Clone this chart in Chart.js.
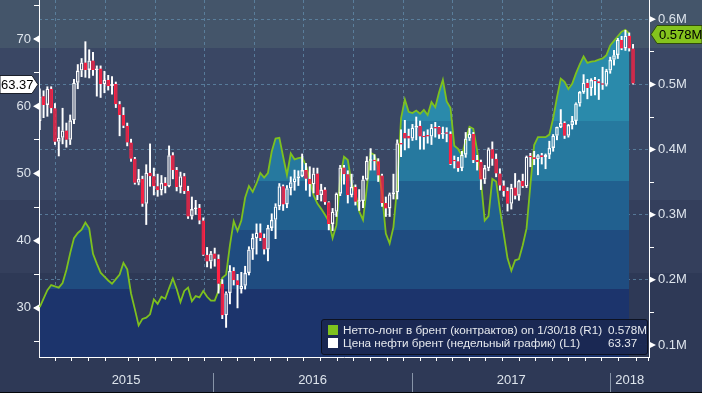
<!DOCTYPE html>
<html>
<head>
<meta charset="utf-8">
<script src="https://cdn.jsdelivr.net/npm/chart.js@4.4.1/dist/chart.umd.min.js"></script>
<style>
html, body { margin: 0; padding: 0; background: #2e3956; }
#wrap { position: relative; width: 702px; height: 393px; overflow: hidden; }
#legend { position: absolute; left: 321px; top: 319px; width: 325px; height: 34px;
  background: rgba(26, 40, 82, 0.95); border: 1px solid #0d1222; border-radius: 3px;
  font: 11.7px "Liberation Sans", sans-serif; color: #e6e9ee; }
.row { position: absolute; left: 6px; height: 12px; line-height: 12px; white-space: nowrap; }
.sw { display: inline-block; width: 10px; height: 10px; vertical-align: -1px; margin-right: 5px; }
.val { position: absolute; left: 280px; }
</style>
</head>
<body>
<div id="wrap">
  <canvas id="chart" width="702" height="393"></canvas>
  <div id="legend">
    <div class="row" style="top:4px"><span class="sw" style="background:#7ec11e"></span>Нетто-лонг в брент (контрактов) on 1/30/18 (R1)<span class="val" id="v1"></span></div>
    <div class="row" style="top:17px"><span class="sw" style="background:#ffffff"></span>Цена нефти брент (недельный график) (L1)<span class="val" id="v2"></span></div>
  </div>
</div>
<script>
// weekly bars, first bar = week of 13 Feb 2015, last = week of 9 Feb 2018
const firstWeek = new Date(2015, 1, 13);

// Brent weekly candles (USD/bbl)
const open = [
  57.8,61.5,60.2,62.6,59.7,54.7,55.3,56.4,55.0,57.9,
  63.5,65.3,66.5,65.4,66.8,65.4,65.6,63.3,63.9,63.0,
  63.3,60.3,58.7,57.1,54.6,52.2,48.6,49.2,45.5,50.1,
  49.6,48.1,47.5,48.6,48.1,52.7,50.5,48.0,49.6,47.4,
  43.6,44.7,44.9,43.0,37.9,36.9,38.1,37.3,33.6,28.9,
  32.2,35.5,34.1,32.8,33.3,35.2,38.7,40.4,41.2,40.4,
  38.7,41.9,43.1,45.1,48.1,45.4,47.8,48.7,49.3,49.6,
  50.5,49.2,48.4,50.0,46.8,47.6,45.7,42.5,44.3,47.0,
  50.9,49.9,46.8,48.0,45.8,45.9,49.1,51.9,52.0,51.8,
  49.7,45.6,44.8,46.9,47.2,54.5,56.0,55.6,55.2,56.8,
  57.1,55.5,55.6,55.5,56.9,56.9,55.8,56.1,55.9,52.0,
  51.8,50.8,52.8,55.2,55.9,52.0,51.7,49.1,50.8,53.6,
  52.2,50.0,48.2,47.4,45.5,47.9,46.7,48.9,48.1,52.5,
  52.4,52.1,52.7,52.4,52.8,53.8,55.6,56.9,57.5,55.6,
  57.2,57.8,60.4,62.1,63.5,62.7,63.9,63.7,63.4,63.2,
  65.3,66.9,67.6,69.9,68.6,70.5,68.6
];
const high = [
  62.6,62.3,62.9,62.9,60.4,56.9,59.7,57.5,58.7,64.0,
  66.2,67.1,69.6,68.4,68.0,66.0,66.0,65.2,64.6,64.4,
  63.6,60.7,59.8,57.5,55.1,52.4,50.6,49.6,51.3,54.4,
  50.8,49.9,49.7,49.4,54.1,53.1,50.9,50.2,50.0,48.1,
  46.5,46.0,45.4,43.4,39.0,38.4,38.9,37.9,34.2,32.4,
  36.3,36.0,35.0,35.3,36.2,39.1,41.0,42.5,42.5,41.0,
  42.3,44.0,45.5,48.5,48.3,48.2,49.5,50.5,50.4,52.9,
  51.5,51.0,50.8,50.8,48.4,47.9,45.8,44.8,47.1,51.2,
  51.2,50.4,49.9,48.3,47.6,49.6,52.5,53.7,52.8,52.2,
  49.9,46.5,47.1,49.9,55.0,56.5,57.9,56.6,57.3,58.4,
  57.8,56.2,56.5,57.3,57.6,57.0,56.9,56.8,56.2,52.6,
  52.4,53.3,56.1,56.7,56.1,52.7,52.0,51.2,53.8,54.7,
  52.9,50.7,48.9,47.9,48.4,50.0,49.0,49.9,52.6,53.0,
  53.3,52.8,53.0,52.9,54.8,55.8,56.9,59.5,57.7,57.3,
  58.5,60.5,62.2,64.7,64.0,64.1,64.3,64.0,65.8,65.5,
  67.3,68.3,70.1,70.4,71.3,70.9,69.2
];
const low = [
  56.5,58.3,58.5,59.0,54.3,52.6,54.4,53.9,54.3,57.4,
  62.6,64.4,64.3,64.2,64.6,61.5,61.3,62.0,62.4,61.8,
  59.8,55.6,56.8,54.1,51.8,48.4,48.3,45.1,42.4,48.1,
  46.8,46.6,46.8,47.1,48.0,49.2,47.4,47.1,47.0,43.3,
  43.2,43.9,42.5,37.8,36.1,35.9,36.2,32.2,28.4,27.1,
  30.6,33.4,30.0,32.2,32.8,34.9,37.2,38.0,40.0,38.0,
  37.0,41.5,40.3,44.6,44.5,44.9,46.8,47.5,48.2,49.5,
  47.5,46.6,47.1,46.1,45.9,45.4,41.6,41.5,43.6,46.7,
  48.4,45.6,46.5,45.3,44.5,44.9,49.0,50.5,50.5,48.8,
  45.1,43.6,43.6,46.2,46.2,52.5,53.5,53.8,54.9,55.0,
  53.6,53.6,54.5,54.3,55.4,55.2,55.2,54.7,51.3,50.8,
  50.3,50.4,52.4,54.9,51.6,50.5,47.6,48.5,50.4,51.2,
  49.5,47.5,46.6,44.4,44.7,46.2,46.0,47.9,47.9,51.0,
  51.3,49.8,51.4,50.7,52.2,53.3,55.0,56.8,55.2,55.4,
  56.6,57.3,60.0,61.9,61.1,61.6,61.7,61.0,62.5,63.0,
  64.9,66.1,67.1,68.4,68.3,68.2,63.3
];
const close = [
  61.5,60.2,62.6,59.7,54.7,55.3,56.4,55.0,57.9,63.5,
  65.3,66.5,65.4,66.8,65.4,65.6,63.3,63.9,63.0,63.3,
  60.3,58.7,57.1,54.6,52.2,48.6,49.2,45.5,50.1,49.6,
  48.1,47.5,48.6,48.1,52.7,50.5,48.0,49.6,47.4,43.6,
  44.7,44.9,43.0,37.9,36.9,38.1,37.3,33.6,28.9,32.2,
  35.5,34.1,33.4,33.3,35.2,38.7,40.4,41.2,40.4,38.7,
  41.9,43.1,45.1,48.1,45.4,47.8,48.7,49.3,49.6,50.5,
  49.2,48.4,50.0,46.8,47.6,45.7,42.5,44.3,47.0,50.9,
  49.9,46.8,48.0,45.8,45.9,49.1,51.9,52.0,51.8,49.7,
  45.6,44.8,46.9,47.2,54.5,54.3,55.2,55.2,56.8,57.1,
  55.5,55.4,55.5,56.8,56.7,55.8,56.0,55.9,51.4,51.8,
  50.8,52.8,55.2,55.9,52.0,51.7,49.1,50.8,53.6,52.2,
  50.0,48.2,47.4,45.5,47.9,46.7,48.9,48.1,52.5,52.4,
  52.1,52.7,52.4,52.8,53.8,55.6,56.9,57.5,55.6,57.2,
  57.8,60.4,62.1,63.5,62.7,63.9,63.7,63.4,63.2,65.3,
  66.9,67.6,69.9,68.6,70.5,68.6,63.37
];

// CFTC net long in Brent, millions of contracts (weekly)
const netLong = [
  0.158,0.171,0.184,0.192,0.190,0.188,0.195,0.215,0.241,0.264,
  0.272,0.277,0.288,0.279,0.240,0.225,0.211,0.205,0.199,0.194,
  0.201,0.208,0.226,0.216,0.179,0.155,0.130,0.140,0.142,0.147,
  0.170,0.163,0.174,0.171,0.187,0.202,0.186,0.166,0.183,0.188,
  0.167,0.175,0.173,0.183,0.174,0.168,0.168,0.183,0.203,0.208,
  0.253,0.290,0.275,0.291,0.326,0.344,0.335,0.348,0.364,0.357,
  0.364,0.397,0.417,0.418,0.389,0.361,0.394,0.385,0.387,0.388,
  0.376,0.354,0.330,0.317,0.309,0.300,0.290,0.264,0.284,0.356,
  0.389,0.384,0.348,0.333,0.305,0.292,0.341,0.395,0.392,0.373,
  0.333,0.271,0.256,0.281,0.344,0.448,0.477,0.458,0.456,0.460,
  0.455,0.461,0.453,0.473,0.465,0.488,0.507,0.474,0.464,0.406,
  0.401,0.391,0.415,0.435,0.432,0.399,0.353,0.291,0.298,0.355,
  0.351,0.308,0.271,0.233,0.214,0.230,0.232,0.253,0.279,0.345,
  0.407,0.419,0.419,0.419,0.423,0.448,0.480,0.509,0.504,0.493,
  0.501,0.517,0.531,0.543,0.533,0.535,0.536,0.538,0.540,0.545,
  0.560,0.567,0.574,0.581,0.584,0.578
];

const leftTicks = [25, 30, 35, 40, 45, 50, 55, 60, 65, 70, 75];
const leftLabeled = [30, 40, 50, 60, 70];
const rightTicks = [0.1, 0.15, 0.2, 0.25, 0.3, 0.35, 0.4, 0.45, 0.5, 0.55, 0.6];
const rightLabeled = [0.1, 0.2, 0.3, 0.4, 0.5, 0.6];
const yearLabels = ['2015', '2016', '2017', '2018'];

const xMin = -0.2, xMax = 160.2;
const DAY = 864e5;
const barShift = -0.4;
const weekPos = d => (d - firstWeek) / (7 * DAY) + barShift;

const UP = '#ffffff', DOWN = '#ff2244', GREEN = '#7ec11e';
const gridCol = 'rgba(98,140,172,0.75)';
const labelCol = '#dde4ec';
const bands = [
  {from: 0, to: 48, color: '#44556a'},
  {from: 48, to: 200, color: '#3a4764'},
  {from: 200, to: 273, color: '#343f5c'},
  {from: 273, to: 393, color: '#2e3956'}
];
const fillBands = [
  {to: 121, color: '#2a8aab'},
  {to: 181, color: '#26799f'},
  {to: 230, color: '#21608f'},
  {to: 289, color: '#1f4c80'},
  {to: 357, color: '#1c346c'}
];

// x ticks: month marks, quarter grid lines, year captions
const xTicks = [];
for (let y = 2015; y <= 2018; y++) {
  for (let m = 0; m < 12; m++) {
    const p = weekPos(new Date(y, m, 1));
    if (p >= xMin && p <= xMax) xTicks.push({value: p, kind: m % 3 === 0 ? 'q' : 'm'});
  }
}
yearLabels.forEach(yl => {
  const y = +yl;
  const a = Math.max(xMin, weekPos(new Date(y, 0, 1)));
  const b = Math.min(xMax, weekPos(new Date(y + 1, 0, 1)));
  xTicks.push({value: (a + b) / 2, lab: yl});
});
xTicks.sort((a, b) => a.value - b.value);

const isUp = i => close[i] >= open[i];
const bodies = open.map((o, i) => ({x: i, y: [o, close[i]]}));
const upperWick = open.map((o, i) => ({x: i, y: [Math.max(o, close[i]), high[i]]}));
const lowerWick = open.map((o, i) => ({x: i, y: [low[i], Math.min(o, close[i])]}));
const wickCols = open.map((o, i) => UP);
const bodyFill = open.map((o, i) => isUp(i) ? 'rgba(0,0,0,0)' : DOWN);
const bodyBorder = open.map((o, i) => isUp(i) ? UP : DOWN);

const lastClose = close[close.length - 1];
const lastNet = netLong[netLong.length - 1];
document.getElementById('v1').textContent = lastNet.toFixed(3) + 'M';
document.getElementById('v2').textContent = lastClose.toFixed(2);

function fillGradient(ctx) {
  const area = ctx.chart.chartArea;
  if (!area) return fillBands[0].color;
  const g = ctx.chart.ctx.createLinearGradient(0, area.top, 0, area.bottom);
  const h = area.bottom - area.top;
  let from = 0;
  fillBands.forEach(b => {
    g.addColorStop(Math.min(1, from / h), b.color);
    g.addColorStop(Math.min(1, b.to / h), b.color);
    from = b.to;
  });
  return g;
}

const decor = {
  id: 'decor',
  beforeDraw(chart) {
    const c = chart.ctx;
    bands.forEach(b => { c.fillStyle = b.color; c.fillRect(0, b.from, chart.width, b.to - b.from); });
  },
  afterDraw(chart) {
    const c = chart.ctx;
    const {x, y, y2} = chart.scales;
    const area = chart.chartArea;
    c.save();
    c.fillStyle = '#ffffff';
    leftLabeled.forEach(v => {
      const py = y.getPixelForValue(v);
      c.beginPath(); c.moveTo(area.left, py - 3.5); c.lineTo(area.left, py + 3.5); c.lineTo(area.left - 6, py); c.fill();
    });
    rightLabeled.forEach(v => {
      const py = y2.getPixelForValue(v);
      c.beginPath(); c.moveTo(area.right, py - 3.5); c.lineTo(area.right, py + 3.5); c.lineTo(area.right + 7, py); c.fill();
    });
    // year separators
    c.strokeStyle = '#8794a8'; c.lineWidth = 1;
    yearLabels.slice(1).forEach(yl => {
      const px = Math.round(x.getPixelForValue(weekPos(new Date(+yl, 0, 1)))) + 0.5;
      c.beginPath(); c.moveTo(px, 373); c.lineTo(px, chart.height); c.stroke();
    });
    c.fillStyle = '#05070c';
    c.fillRect(0, chart.height - 1, chart.width, 1);
    // last value badges
    c.font = '13px "Liberation Sans", sans-serif';
    c.textBaseline = 'middle';
    let py = Math.round(y.getPixelForValue(lastClose)) + 0.5;
    c.beginPath();
    c.moveTo(0, py - 9); c.lineTo(32, py - 9); c.lineTo(38, py); c.lineTo(32, py + 9); c.lineTo(0, py + 9); c.closePath();
    c.fillStyle = '#ffffff'; c.fill();
    c.strokeStyle = '#1a1f2a'; c.stroke();
    c.fillStyle = '#000000'; c.textAlign = 'left';
    c.fillText(lastClose.toFixed(2), 1, py + 1);
    py = Math.round(y2.getPixelForValue(lastNet)) + 0.5;
    c.beginPath();
    c.moveTo(651, py); c.lineTo(657, py - 9); c.lineTo(702, py - 9); c.lineTo(702, py + 9); c.lineTo(657, py + 9); c.closePath();
    c.fillStyle = '#84c31d'; c.fill();
    c.strokeStyle = '#2f4a0c'; c.stroke();
    c.fillStyle = '#000000';
    c.fillText(lastNet.toFixed(3) + 'M', 659, py + 1);
    c.restore();
  }
};

Chart.defaults.font.family = '"Liberation Sans", sans-serif';
Chart.defaults.font.size = 13;

new Chart(document.getElementById('chart'), {
  type: 'bar',
  data: {
    datasets: [
      {
        type: 'line',
        data: netLong.map((v, i) => ({x: i, y: v})),
        yAxisID: 'y2',
        borderColor: GREEN,
        borderWidth: 1.8,
        pointRadius: 0,
        tension: 0,
        fill: 'start',
        backgroundColor: fillGradient,
        order: 3
      },
      {
        data: upperWick, yAxisID: 'y', backgroundColor: wickCols,
        barThickness: 1.3, grouped: false, order: 2
      },
      {
        data: lowerWick, yAxisID: 'y', backgroundColor: wickCols,
        barThickness: 1.3, grouped: false, order: 2
      },
      {
        data: bodies, yAxisID: 'y',
        backgroundColor: bodyFill, borderColor: bodyBorder,
        borderWidth: 1.3, borderSkipped: false, inflateAmount: 0,
        barThickness: 3.6, minBarLength: 1.5, grouped: false, order: 1
      }
    ]
  },
  options: {
    responsive: false,
    animation: false,
    devicePixelRatio: 1,
    layout: {padding: 0},
    plugins: {legend: {display: false}, tooltip: {enabled: false}},
    scales: {
      x: {
        type: 'linear', min: xMin, max: xMax, offset: false,
        afterBuildTicks: s => { s.ticks = xTicks.map(t => Object.assign({}, t)); },
        afterFit: s => { s.height = 36; s.paddingLeft = 0; s.paddingRight = 0; },
        ticks: {
          autoSkip: false, maxRotation: 0, padding: 12, color: labelCol,
          callback: (v, i, t) => t[i].lab || ''
        },
        grid: {
          color: c => (c.tick && c.tick.kind === 'q') ? gridCol : 'rgba(0,0,0,0)',
          tickColor: c => (c.tick && c.tick.lab) ? 'rgba(0,0,0,0)' : '#ffffff',
          tickLength: 4, tickBorderDash: []
        },
        border: {color: '#ffffff', width: 1, dash: [3, 3]}
      },
      y: {
        position: 'left', min: 22.7, max: 75.8,
        afterBuildTicks: s => { s.ticks = leftTicks.map(v => ({value: v})); },
        afterFit: s => { s.width = 39; s.paddingTop = 0; s.paddingBottom = 0; },
        ticks: {
          padding: 3, color: labelCol,
          callback: v => leftLabeled.includes(v) ? String(v) : ''
        },
        grid: {drawOnChartArea: false, tickLength: 5, tickColor: '#ffffff'},
        border: {color: '#ffffff', width: 1}
      },
      y2: {
        position: 'right', min: 0.0815, max: 0.6297,
        afterBuildTicks: s => { s.ticks = rightTicks.map(v => ({value: v})); },
        afterFit: s => { s.width = 53; s.paddingTop = 0; s.paddingBottom = 0; },
        ticks: {
          padding: 4, color: labelCol,
          callback: v => rightLabeled.includes(v) ? v.toFixed(1) + 'M' : ''
        },
        grid: {
          color: c => (c.tick && rightLabeled.includes(c.tick.value)) ? gridCol : 'rgba(0,0,0,0)',
          tickLength: 5, tickColor: '#ffffff', tickBorderDash: []
        },
        border: {color: '#ffffff', width: 1, dash: [3, 3]}
      }
    }
  },
  plugins: [decor]
});
</script>
</body>
</html>
